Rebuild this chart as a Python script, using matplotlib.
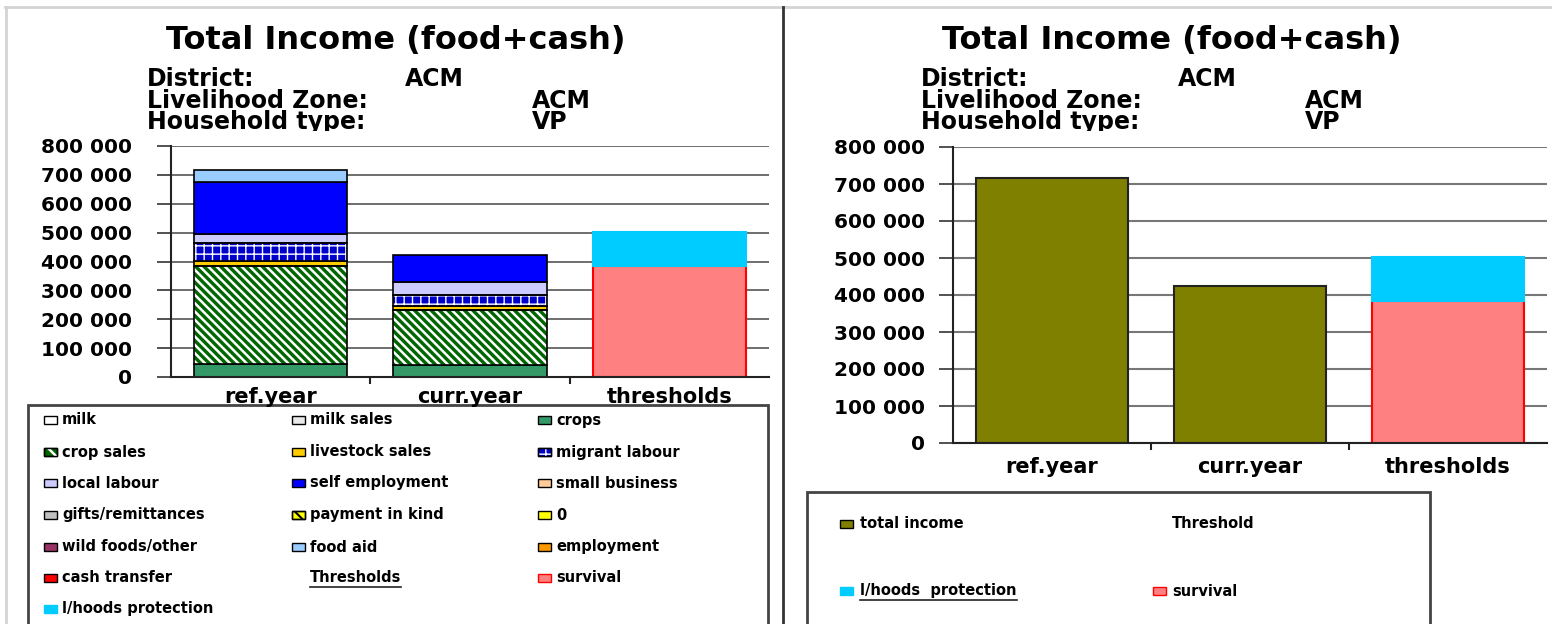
import matplotlib
matplotlib.use("Agg")
import matplotlib.pyplot as plt
from matplotlib.patches import Rectangle
from matplotlib.lines import Line2D
from matplotlib.ticker import FuncFormatter, MultipleLocator, FixedLocator
from matplotlib.transforms import Bbox

W, H = 1552, 624
plt.rcParams['font.family'] = ['DejaVu Sans']
plt.rcParams['font.weight'] = 'bold'
plt.rcParams['hatch.linewidth'] = 1.8

# ---------------- data ----------------
categories = ['ref.year', 'curr.year', 'thresholds']
income_sources = ['crops', 'crop sales', 'livestock sales', 'migrant labour',
                  'local labour', 'self employment', 'food aid']
ref_year = [46000, 337000, 17000, 64000, 31000, 182000, 40000]
curr_year = [42000, 191000, 14000, 37000, 45000, 95000, 0]
survival = 385000
lhoods_protection = 117000
total_income = [717000, 424000]

title_text = 'Total Income (food+cash)'
district = 'ACM'
livelihood_zone = 'ACM'
household_type = 'VP'

legend_labels = ['milk', 'milk sales', 'crops',
                 'crop sales', 'livestock sales', 'migrant labour',
                 'local labour', 'self employment', 'small business',
                 'gifts/remittances', 'payment in kind', '0',
                 'wild foods/other', 'food aid', 'employment',
                 'cash transfer', 'Thresholds', 'survival',
                 'l/hoods protection']

# styles: label -> (facecolor, hatch, hatchcolor, edgecolor, hatch linewidth)
styles = {
    'milk': ('#FFFFFF', None, None, '#000000', 0),
    'milk sales': ('#E8E8E8', None, None, '#000000', 0),
    'crops': ('#339966', None, None, '#000000', 0),
    'crop sales': ('#006600', '\\\\\\\\', '#FFFFFF', '#000000', 1.8),
    'livestock sales': ('#FFCC00', None, None, '#000000', 0),
    'migrant labour': ('#0000CC', '++', '#FFFFFF', '#000000', 1.0),
    'local labour': ('#CCCCFF', None, None, '#000000', 0),
    'self employment': ('#0000FF', None, None, '#000000', 0),
    'small business': ('#FFCC99', None, None, '#000000', 0),
    'gifts/remittances': ('#C0C0C0', None, None, '#000000', 0),
    'payment in kind': ('#FFFF00', '\\\\', '#000000', '#000000', 1.5),
    '0': ('#FFFF00', None, None, '#000000', 0),
    'wild foods/other': ('#993366', None, None, '#000000', 0),
    'food aid': ('#99CCFF', None, None, '#000000', 0),
    'employment': ('#FF9900', None, None, '#000000', 0),
    'cash transfer': ('#FF0000', None, None, '#000000', 0),
    'survival': ('#FF8080', None, None, '#FF0000', 0),
    'l/hoods protection': ('#00CCFF', None, None, '#00CCFF', 0),
}
total_color = '#808000'


def fx(x):
    return x / W


def fy(y):
    return 1 - y / H


fig = plt.figure(figsize=(W / 100, H / 100), dpi=100)
fig.patch.set_facecolor('white')

# panel frame lines
fig.add_artist(Line2D([fx(5), fx(W)], [fy(7), fy(7)], color='#D4D4D4', lw=2))
fig.add_artist(Line2D([fx(6), fx(6)], [fy(7), fy(H)], color='#D4D4D4', lw=2))
fig.add_artist(Line2D([fx(782.5), fx(782.5)], [fy(7), fy(H)], color='#333333', lw=2))

fmt = FuncFormatter(lambda v, p: f"{int(v):,}".replace(',', ' '))


def style_axis(ax, ypad, xpad):
    ax.set_xlim(-0.5, 2.5)
    ax.set_ylim(0, 800000)
    ax.yaxis.set_major_locator(MultipleLocator(100000))
    ax.yaxis.set_major_formatter(fmt)
    ax.set_xticks(range(len(categories)))
    ax.set_xticklabels(categories)
    ax.xaxis.set_minor_locator(FixedLocator([0.5, 1.5]))
    ax.tick_params(axis='x', which='major', length=0, pad=xpad, labelsize=15)
    ax.tick_params(axis='x', which='minor', length=5, width=1.5, color='#222222')
    ax.tick_params(axis='y', length=10, width=1.2, color='#333333', pad=ypad,
                   labelsize=14.5)
    for s in ('top', 'right'):
        ax.spines[s].set_visible(False)
    for s in ('left', 'bottom'):
        ax.spines[s].set_linewidth(1.5)
        ax.spines[s].set_color('#222222')
    ax.grid(axis='y', color='#555555', lw=1.2)
    ax.set_axisbelow(True)
    ax.set_facecolor('none')


def set_hlw(artists, lw):
    for a in artists:
        if hasattr(a, 'set_hatch_linewidth'):
            a.set_hatch_linewidth(lw)


def stacked_bar(ax, x, value, bottom, label):
    face, hatch, hcol, edge, hlw = styles[label]
    if hatch:
        with plt.rc_context({'hatch.linewidth': hlw}):
            bars = ax.bar(x, value, bottom=bottom, width=0.77, color=face,
                          hatch=hatch, edgecolor=hcol, lw=0, zorder=2)
            set_hlw(bars, hlw)
        ax.bar(x, value, bottom=bottom, width=0.77, fill=False, edgecolor=edge,
               lw=1.2, zorder=3)
    else:
        ax.bar(x, value, bottom=bottom, width=0.77, color=face, edgecolor=edge,
               lw=1.2, zorder=2)


# ---------------- left chart ----------------
axL = fig.add_axes([fx(171), fy(377), (769 - 171) / W, (377 - 146) / H])
style_axis(axL, ypad=18, xpad=7)
for xi, series in enumerate([ref_year, curr_year]):
    bottom = 0
    for lab, v in zip(income_sources, series):
        if v > 0:
            stacked_bar(axL, xi, v, bottom, lab)
        bottom += v
axL.bar(2, survival, width=0.77, color=styles['survival'][0],
        edgecolor=styles['survival'][3], lw=1.5, zorder=2)
axL.bar(2, lhoods_protection, bottom=survival, width=0.77,
        color=styles['l/hoods protection'][0],
        edgecolor=styles['l/hoods protection'][3], lw=1.5, zorder=2)

# ---------------- right chart ----------------
axR = fig.add_axes([fx(953), fy(443), (1547 - 953) / W, (443 - 147) / H])
style_axis(axR, ypad=10, xpad=10)
axR.grid(axis='y', color='#777777', lw=1.5)
axR.bar([0, 1], total_income, width=0.77, color=total_color,
        edgecolor='#222222', lw=1.5, zorder=2)
axR.bar(2, survival, width=0.77, color=styles['survival'][0],
        edgecolor=styles['survival'][3], lw=1.5, zorder=2)
axR.bar(2, lhoods_protection, bottom=survival, width=0.77,
        color=styles['l/hoods protection'][0],
        edgecolor=styles['l/hoods protection'][3], lw=1.5, zorder=2)

# ---------------- titles ----------------
clip = Bbox([[0, H - 131], [W, H]])
for cx, x0, xv1, xv2 in [(396, 147, 405, 532), (1172, 921, 1178, 1305)]:
    fig.text(fx(cx), fy(49), title_text, ha='center', va='baseline',
             fontsize=23, fontweight='bold')
    rows = [('District:', district, xv1, 86),
            ('Livelihood Zone:', livelihood_zone, xv2, 108),
            ('Household type:', household_type, xv2, 129)]
    for lab, val, xv, yb in rows:
        t1 = fig.text(fx(x0), fy(yb), lab, ha='left', va='baseline',
                      fontsize=17, fontweight='bold')
        t2 = fig.text(fx(xv), fy(yb), val, ha='left', va='baseline',
                      fontsize=17, fontweight='bold')
        for t in (t1, t2):
            t.set_clip_box(clip)
            t.set_clip_on(True)

# ---------------- legends ----------------
underlined = []


def marker(x, y, label, w=13, h=8):
    face, hatch, hcol, edge, hlw = styles[label]
    fig.add_artist(Rectangle((fx(x), fy(y + h / 2)), w / W, h / H,
                             facecolor=face, edgecolor=edge, lw=1.0))
    if hatch:
        with plt.rc_context({'hatch.linewidth': hlw}):
            r = Rectangle((fx(x), fy(y + h / 2)), w / W, h / H,
                          facecolor='none', edgecolor=hcol, lw=0,
                          hatch=hatch[:2])
            set_hlw([r], hlw)
            fig.add_artist(r)
        fig.add_artist(Rectangle((fx(x), fy(y + h / 2)), w / W, h / H,
                                 facecolor='none', edgecolor=edge, lw=1.0))


# left legend box
fig.add_artist(Rectangle((fx(28), fy(H + 5)), (768 - 28) / W, (H + 5 - 405) / H,
                         facecolor='white', edgecolor='#444444', lw=2, zorder=0))
col_marker = [44, 292, 538]
col_text = [62, 310, 556]
row_y = [420, 452, 483, 515, 547, 578, 609]
for i, lab in enumerate(legend_labels):
    r, c = divmod(i, 3)
    y = row_y[r]
    if lab == 'Thresholds':
        t = fig.text(fx(col_text[c]), fy(y), lab, ha='left', va='center',
                     fontsize=10.5, fontweight='bold')
        underlined.append(t)
        continue
    marker(col_marker[c], y, lab)
    fig.text(fx(col_text[c]), fy(y), lab, ha='left', va='center',
             fontsize=10.5, fontweight='bold')

# right legend box
fig.add_artist(Rectangle((fx(807), fy(H + 5)), (1430 - 807) / W, (H + 5 - 492) / H,
                         facecolor='white', edgecolor='#444444', lw=2, zorder=0))
fig.add_artist(Rectangle((fx(840), fy(524 + 4)), 13 / W, 8 / H,
                         facecolor=total_color, edgecolor='#000000', lw=1.0))
fig.text(fx(860), fy(524), 'total income', ha='left', va='center',
         fontsize=10.5, fontweight='bold')
fig.text(fx(1172), fy(524), 'Threshold', ha='left', va='center',
         fontsize=10.5, fontweight='bold')
marker(840, 591, 'l/hoods protection')
t = fig.text(fx(860), fy(591), 'l/hoods  protection', ha='left', va='center',
             fontsize=10.5, fontweight='bold')
underlined.append(t)
marker(1153, 591, 'survival')
fig.text(fx(1172), fy(591), 'survival', ha='left', va='center',
         fontsize=10.5, fontweight='bold')

# underline texts
fig.canvas.draw()
renderer = fig.canvas.get_renderer()
for t in underlined:
    bb = t.get_window_extent(renderer)
    yline = (bb.y0 - 1) / H
    fig.add_artist(Line2D([bb.x0 / W, bb.x1 / W], [yline, yline],
                          color='#222222', lw=1.2))

fig.savefig('out.png', dpi=100, facecolor='white')
